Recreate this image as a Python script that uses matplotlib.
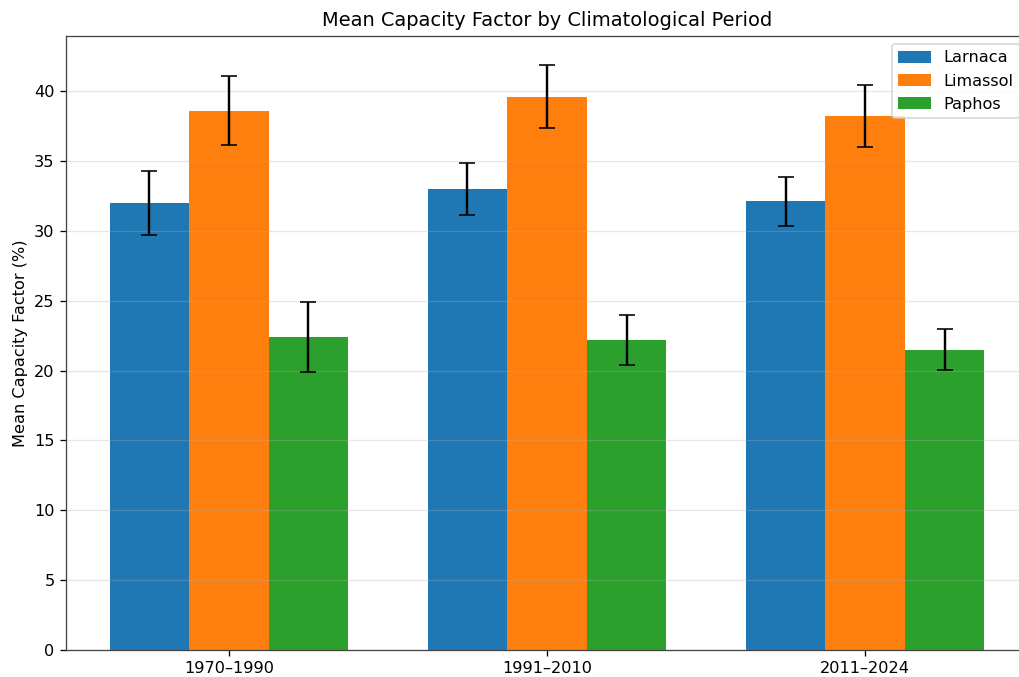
import numpy as np
import matplotlib
matplotlib.use('Agg')
import matplotlib.pyplot as plt

periods = ['1970–1990', '1991–2010', '2011–2024']
stations = ['Larnaca', 'Limassol', 'Paphos']

# mean capacity factor (%) per station, one value per period
larnaca_mean = [32.0, 33.0, 32.1]
limassol_mean = [38.6, 39.6, 38.2]
paphos_mean = [22.4, 22.2, 21.5]

# spread (± std) per station
larnaca_std = [2.3, 1.85, 1.75]
limassol_std = [2.45, 2.25, 2.2]
paphos_std = [2.5, 1.8, 1.45]

means = [larnaca_mean, limassol_mean, paphos_mean]
stds = [larnaca_std, limassol_std, paphos_std]

DPI = 116
W, H = 1019, 677
fig = plt.figure(figsize=(W / DPI, H / DPI), dpi=DPI)
ax = fig.add_axes([66 / W, 27 / H, 962 / W, 614 / H])

x = np.arange(len(periods))
width = 0.25
for i, name in enumerate(stations):
    ax.bar(x + (i - 1) * width, means[i], width, yerr=stds[i],
           capsize=5, label=name)

ax.set_xticks(x)
ax.set_xticklabels(periods)
ax.set_ylabel('Mean Capacity Factor (%)')
ax.set_title('Mean Capacity Factor by Climatological Period')
ax.legend(loc='upper right')
ax.grid(axis='y', alpha=0.3)
for s in ax.spines.values():
    s.set_color('#444444')

fig.savefig('out.png', dpi=DPI)
